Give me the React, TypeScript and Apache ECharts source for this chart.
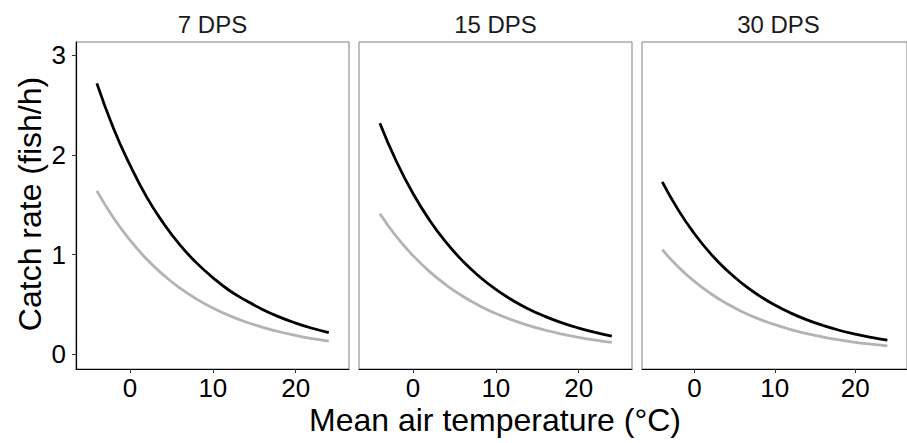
import React, { useEffect, useRef } from "react";
import * as echarts from "echarts";

const temps = [-4, -2, 0, 2, 4, 6, 8, 10, 12, 14, 16, 18, 20, 22, 24];
const panels = ["7 DPS", "15 DPS", "30 DPS"];
const blackSeries = [
  [2.72, 2.27, 1.9, 1.58, 1.32, 1.1, 0.92, 0.77, 0.64, 0.54, 0.45, 0.375, 0.313, 0.261, 0.218],
  [2.32, 1.935, 1.614, 1.346, 1.123, 0.936, 0.781, 0.651, 0.543, 0.453, 0.378, 0.315, 0.263, 0.219, 0.183],
  [1.73, 1.447, 1.21, 1.011, 0.845, 0.707, 0.591, 0.494, 0.413, 0.345, 0.289, 0.241, 0.202, 0.169, 0.141],
];
const graySeries = [
  [1.64, 1.37, 1.145, 0.956, 0.798, 0.666, 0.556, 0.465, 0.388, 0.324, 0.271, 0.226, 0.189, 0.157, 0.131],
  [1.41, 1.18, 0.99, 0.83, 0.695, 0.583, 0.488, 0.409, 0.343, 0.287, 0.241, 0.202, 0.169, 0.142, 0.119],
  [1.05, 0.875, 0.731, 0.61, 0.509, 0.425, 0.355, 0.297, 0.248, 0.207, 0.173, 0.144, 0.12, 0.101, 0.084],
];
const xTicks = [0, 10, 20];
const yTicks = [0, 1, 2, 3];
const xTitle = "Mean air temperature (°C)";
const yTitle = "Catch rate (fish/h)";

const FONT = "Liberation Sans, Arial, sans-serif";

export default function App() {
  const ref = useRef<HTMLDivElement>(null);
  useEffect(() => {
    if (!ref.current) return;
    const chart = echarts.init(ref.current, null, { renderer: "svg" });
    const lefts = [76, 359, 642];
    const W = 273;
    const grids = lefts.map((l) => ({
      left: l,
      top: 42,
      width: W,
      height: 327,
      show: true,
      borderColor: "#808080",
      borderWidth: 1,
      backgroundColor: "transparent",
    }));
    const xAxes = lefts.map((_, i) => ({
      type: "value",
      gridIndex: i,
      min: -6.52,
      max: 26.44,
      splitLine: { show: false },
      axisLine: { show: true, onZero: false, lineStyle: { color: "#000", width: 1.2 } },
      axisTick: { show: true, length: 4, customValues: xTicks, lineStyle: { color: "#333" } },
      axisLabel: { show: true, customValues: xTicks, fontSize: 26, lineHeight: 24, color: "#000", fontFamily: FONT, margin: 7 },
    }));
    const yAxes = lefts.map((_, i) => ({
      type: "value",
      gridIndex: i,
      min: -0.148,
      max: 3.135,
      splitLine: { show: false },
      axisLine: { show: i === 0, onZero: false, lineStyle: { color: "#000", width: 1.2 } },
      axisTick: { show: i === 0, length: 4, customValues: yTicks, lineStyle: { color: "#333" } },
      axisLabel: { show: i === 0, customValues: yTicks, fontSize: 26, color: "#000", fontFamily: FONT, margin: 10 },
    }));
    const series: any[] = [];
    panels.forEach((_, i) => {
      series.push({
        type: "line",
        xAxisIndex: i,
        yAxisIndex: i,
        data: temps.map((t, j) => [t, graySeries[i][j]]),
        showSymbol: false,
        smooth: true,
        lineStyle: { color: "#b3b3b3", width: 2.8 },
        z: 2,
      });
      series.push({
        type: "line",
        xAxisIndex: i,
        yAxisIndex: i,
        data: temps.map((t, j) => [t, blackSeries[i][j]]),
        showSymbol: false,
        smooth: true,
        lineStyle: { color: "#000", width: 2.8 },
        z: 3,
      });
    });
    const graphic: any[] = panels.map((p, i) => ({
      type: "text",
      x: lefts[i] + W / 2,
      y: 24,
      style: { text: p, fontSize: 24, fontFamily: FONT, fill: "#1a1a1a", textAlign: "center", textVerticalAlign: "middle" },
    }));
    graphic.push({
      type: "text",
      x: 495,
      y: 420,
      style: { text: xTitle, fontSize: 32, lineHeight: 30, fontFamily: FONT, fill: "#000", textAlign: "center", textVerticalAlign: "middle" },
    });
    graphic.push({
      type: "text",
      x: 30,
      y: 204,
      rotation: Math.PI / 2,
      style: { text: yTitle, fontSize: 32, fontFamily: FONT, fill: "#000", textAlign: "center", textVerticalAlign: "middle" },
    });
    chart.setOption({
      animation: false,
      backgroundColor: "#fff",
      grid: grids,
      xAxis: xAxes,
      yAxis: yAxes,
      series,
      graphic,
    });
    return () => chart.dispose();
  }, []);
  return (
    <div
      ref={ref}
      style={{ position: "fixed", left: 0, top: 0, width: 907, height: 443, background: "#fff" }}
    />
  );
}
